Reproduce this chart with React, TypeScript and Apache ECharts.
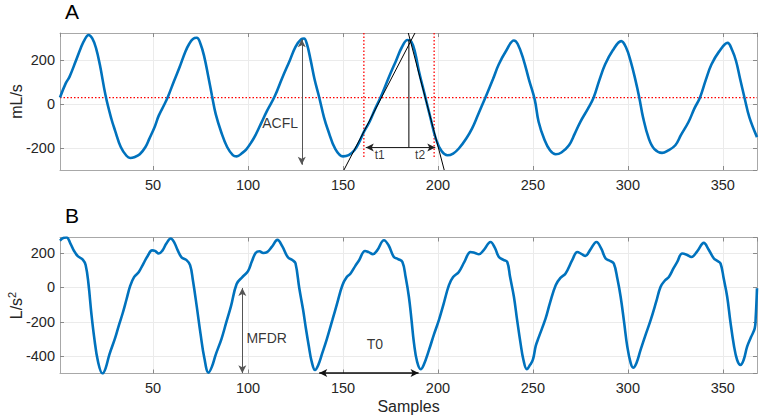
import React, { useEffect, useRef } from "react";
import * as echarts from "echarts";

// ---- Panel A: flow signal (mL/s) ----
const topSamples = [
  1, 4, 6, 9, 12, 14, 16, 18, 20, 22, 25, 28, 30, 33, 36, 38, 40, 43, 46, 48, 51, 53, 56, 58, 61, 64, 67, 69, 71, 73,
  75, 77, 79, 81, 83, 86, 89, 92, 94, 97, 99, 102, 104, 107, 110, 114, 118, 122, 125, 128, 129.5, 131, 133, 135, 137.5,
  140, 142, 146, 150, 153, 156, 159, 161, 164, 167, 170, 174, 178, 181, 184, 186, 188, 190, 193, 196, 199, 202, 205,
  208, 211, 215, 218, 221, 225, 229, 232, 236, 240, 242, 245, 248, 251, 253, 256, 259, 262, 265, 269, 272, 275, 279,
  282, 285, 288, 292, 296.5, 299, 301.5, 304, 306, 308, 311, 314, 318, 321, 325, 328, 332, 335, 338, 341, 344, 348,
  352.5, 355, 357, 359, 361.4, 364, 368,
];
const topFlow = [
  31, 95, 125, 190, 258, 295, 316, 300, 255, 180, 40, -65, -120, -195, -235, -245, -242, -228, -195, -158, -100, -52, 0,
  38, 105, 170, 240, 275, 298, 303, 275, 215, 130, 40, -45, -130, -195, -232, -238, -222, -207, -170, -140, -85, -30, 35,
  120, 200, 262, 297, 300, 275, 200, 115, 31, -60, -115, -205, -238, -232, -210, -165, -126, -80, -20, 35, 120, 200, 260,
  293, 285, 235, 150, 45, -60, -160, -215, -233, -225, -202, -155, -110, -50, 31, 115, 181, 245, 291, 275, 205, 110, 20,
  -80, -160, -210, -228, -220, -187, -135, -80, -20, 31, 110, 181, 245, 288, 260, 196, 110, 31, -60, -156, -205, -222,
  -212, -187, -140, -80, -20, 31, 110, 181, 240, 280, 245, 196, 120, 31, -60, -150,
];

// ---- Panel B: acceleration signal (L/s^2) ----
const bottomSamples = [
  1, 3, 4.5, 6.5, 8.5, 10.5, 13, 14.5, 16, 17.5, 19, 21, 23.4, 25, 27, 30, 32, 34, 36, 38, 40, 42.5, 45, 47, 49.5, 51,
  53, 55, 57, 59.3, 61, 63, 65, 67.5, 69.5, 71, 73, 75, 77, 79.2, 81, 83, 86, 88.5, 91, 94, 97, 100, 102, 104, 106, 108,
  110, 112.5, 115.5, 118, 121, 123.5, 125, 127, 129, 130.5, 132, 133.5, 135.3, 137, 139, 141.5, 144.4, 147, 149.7, 152,
  154, 156.5, 158.5, 161.6, 163.5, 165.8, 168, 171.6, 174, 176.8, 179, 181.3, 183, 184.7, 186, 187.4, 189, 190.9, 192.5,
  195.3, 198, 200.5, 203, 205.8, 208, 211, 214, 217.2, 219.5, 221.6, 224, 227.7, 230, 232.1, 234.5, 236.5, 238, 240,
  241.7, 243.5, 245, 246.8, 248.5, 250, 251.5, 253.2, 256.7, 259, 262, 264.5, 267.2, 270.7, 273.4, 275.5, 277.7, 280,
  283.5, 286, 288.3, 290.5, 292.6, 294.5, 296.2, 298, 299.7, 301.5, 302.8, 304.5, 306.7, 309.5, 312, 315, 317.2, 319.5,
  321.6, 324, 326, 328.6, 331, 333.5, 336.5, 340, 342.5, 345.3, 347, 348.8, 350.5, 352.3, 354, 355.8, 357.5, 359.3, 361,
  362.8, 364.8, 366.8, 367.3, 368,
];
const bottomAccel = [
  272, 288, 290, 255, 210, 180, 162, 130, 20, -150, -290, -430, -500, -470, -390, -295, -220, -150, -70, 10, 60, 90, 140,
  180, 215, 212, 197, 215, 255, 284, 265, 215, 175, 160, 130, 40, -110, -270, -410, -495, -460, -390, -300, -205, -110,
  20, 60, 95, 150, 200, 210, 200, 205, 235, 276, 240, 175, 158, 140, -5, -130, -240, -340, -430, -480, -450, -385, -300,
  -190, -90, 13, 60, 81, 125, 158, 212, 205, 193, 215, 274, 245, 177, 165, 148, 60, -54, -180, -325, -430, -475, -450,
  -363, -270, -190, -95, 13, 60, 90, 150, 206, 200, 193, 215, 264, 230, 177, 160, 148, 60, -54, -190, -325, -420, -475,
  -450, -420, -340, -286, -180, -90, 13, 55, 81, 158, 206, 195, 183, 215, 264, 225, 168, 155, 139, 50, -54, -200, -344,
  -440, -466, -440, -363, -270, -190, -80, 3, 40, 61, 110, 148, 197, 190, 177, 210, 259, 220, 168, 155, 139, 50, -54,
  -200, -334, -420, -450, -420, -344, -290, -238, -180, -5,
];

const xTickStep = 50;
const yTickStep = 200;
const flowThreshold = 30;

const FONT = "'Liberation Sans', Arial, Helvetica, sans-serif";
const AXIS_GREY = "#a8a8a8";
const TEXT_DARK = "#262626";
const BLUE = "#0072BD";

const zip = (xs: number[], ys: number[]) => xs.map((x, i) => [x, ys[i]]);

export default function App() {
  const ref = useRef<HTMLDivElement>(null);

  useEffect(() => {
    if (!ref.current) return;
    const chart = echarts.init(ref.current, null, { renderer: "svg" });

    const xBase = (gridIndex: number, position: "bottom" | "top", showLabels: boolean, name?: string) => ({
      type: "value",
      gridIndex,
      position,
      min: 1,
      max: 368,
      splitNumber: 7,
      minInterval: xTickStep,
      maxInterval: xTickStep,
      name: name || "",
      nameLocation: "middle",
      nameGap: 25,
      nameMoveOverlap: false,
      nameTextStyle: { fontSize: 16, color: TEXT_DARK, fontFamily: FONT },
      axisLine: { show: true, onZero: false, lineStyle: { color: AXIS_GREY, width: 1 } },
      axisTick: { show: true, inside: true, length: 4, lineStyle: { color: "#8a8a8a" } },
      axisLabel: {
        show: showLabels,
        color: TEXT_DARK,
        fontSize: 14.5,
        fontFamily: FONT,
        margin: 7,
        showMinLabel: false,
        showMaxLabel: false,
        formatter: (v: number) => (v % xTickStep === 0 ? String(v) : ""),
      },
      splitLine: { show: position === "bottom", showMinLine: false, showMaxLine: false, lineStyle: { color: "#ebebeb", width: 1 } },
    });

    const yBase = (
      gridIndex: number,
      position: "left" | "right",
      min: number,
      max: number,
      showLabels: boolean,
      name?: string
    ) => ({
      type: "value",
      gridIndex,
      position,
      min,
      max,
      minInterval: yTickStep,
      maxInterval: yTickStep,
      name: name || "",
      nameLocation: "middle",
      nameGap: 34,
      nameMoveOverlap: false,
      nameTextStyle: {
        fontSize: 16,
        color: TEXT_DARK,
        fontFamily: FONT,
        lineHeight: 20,
        rich: { sup: { fontSize: 11, lineHeight: 11, verticalAlign: "top", color: TEXT_DARK, fontFamily: FONT } },
      },
      axisLine: { show: true, onZero: false, lineStyle: { color: AXIS_GREY, width: 1 } },
      axisTick: { show: true, inside: true, length: 4, lineStyle: { color: "#8a8a8a" } },
      axisLabel: {
        show: showLabels,
        color: TEXT_DARK,
        fontSize: 14.5,
        fontFamily: FONT,
        margin: 5,
        showMinLabel: false,
        showMaxLabel: false,
        formatter: (v: number) => (v % yTickStep === 0 ? String(v) : ""),
      },
      splitLine: { show: position === "left", showMinLine: false, showMaxLine: false, lineStyle: { color: "#ebebeb", width: 1 } },
    });

    const arrowLine = (
      from: number[],
      to: number[],
      heads: [string, string],
      color: string,
      width: number
    ) => [
      { coord: from, symbol: heads[0], lineStyle: { color, width, type: "solid" } },
      { coord: to, symbol: heads[1] },
    ];

    const plainLine = (data: number[][], xi: number, color: string, width: number, type: any = "solid", z = 4) => ({
      type: "line",
      xAxisIndex: xi,
      yAxisIndex: xi,
      data,
      showSymbol: false,
      symbol: "none",
      silent: true,
      z,
      lineStyle: { color, width, type },
    });

    const textSeries = (xi: number, items: { pos: number[]; text: string; size: number }[]) => ({
      type: "scatter",
      xAxisIndex: xi,
      yAxisIndex: xi,
      symbolSize: 0,
      silent: true,
      z: 6,
      data: items.map((it) => ({
        value: it.pos,
        name: it.text,
        label: {
          show: true,
          formatter: "{b}",
          position: "inside",
          color: "#000",
          fontSize: it.size,
          fontFamily: FONT,
        },
      })),
    });

    const option: any = {
      animation: false,
      backgroundColor: "#ffffff",
      textStyle: { fontFamily: FONT },
      title: [
        { text: "A", left: 65, top: 1, padding: 0, textStyle: { fontSize: 21, fontWeight: "normal", color: "#000", fontFamily: FONT } },
        { text: "B", left: 65, top: 205, padding: 0, textStyle: { fontSize: 21, fontWeight: "normal", color: "#000", fontFamily: FONT } },
      ],
      grid: [
        { left: 60, top: 33, right: 4, height: 137, containLabel: false, outerBoundsMode: "none" },
        { left: 60, top: 237.5, right: 4, height: 136, containLabel: false, outerBoundsMode: "none" },
      ],
      xAxis: [
        xBase(0, "bottom", true),
        xBase(0, "top", false),
        xBase(1, "bottom", true, "Samples"),
        xBase(1, "top", false),
      ],
      yAxis: [
        yBase(0, "left", -300, 325, true, "mL/s"),
        yBase(0, "right", -300, 325, false),
        yBase(1, "left", -500, 290, true, "L/s{sup|2}"),
        yBase(1, "right", -500, 290, false),
      ],
      series: [
        // Panel A reference lines
        plainLine([[1, flowThreshold], [368, flowThreshold]], 0, "#ff0000", 1.3, [1.5, 2], 2),
        plainLine([[161, 325], [161, -245]], 0, "#ff0000", 1.3, [1.5, 2], 2),
        plainLine([[198, 325], [198, -245]], 0, "#ff0000", 1.3, [1.5, 2], 2),
        {
          type: "line",
          xAxisIndex: 0,
          yAxisIndex: 0,
          data: zip(topSamples, topFlow),
          smooth: 0.4,
          showSymbol: false,
          symbol: "none",
          silent: true,
          z: 3,
          lineStyle: { color: BLUE, width: 2.6 },
        },
        // tangent lines & peak marker
        plainLine([[150.5, -300], [187.9, 325]], 0, "#000", 1),
        plainLine([[184.4, 325], [203.3, -300]], 0, "#000", 1),
        plainLine([[184.7, 293], [184.7, -197]], 0, "#000", 1),
        {
          type: "line",
          xAxisIndex: 0,
          yAxisIndex: 0,
          data: [],
          silent: true,
          z: 5,
          markLine: {
            silent: true,
            animation: false,
            symbolSize: [6, 8],
            label: { show: false },
            data: [
              arrowLine([128.3, 296], [128.3, -276], ["arrow", "arrow"], "#555", 1),
              arrowLine([162, -197], [198.6, -197], ["arrow", "arrow"], "#222", 1),
            ],
          },
        },
        textSeries(0, [
          { pos: [116.9, -84], text: "ACFL", size: 14 },
          { pos: [169.3, -230], text: "t1", size: 12 },
          { pos: [190.6, -230], text: "t2", size: 12 },
        ]),
        // Panel B
        {
          type: "line",
          xAxisIndex: 2,
          yAxisIndex: 2,
          data: zip(bottomSamples, bottomAccel),
          smooth: 0.4,
          showSymbol: false,
          symbol: "none",
          silent: true,
          z: 3,
          lineStyle: { color: BLUE, width: 2.6 },
        },
        {
          type: "line",
          xAxisIndex: 2,
          yAxisIndex: 2,
          data: [],
          silent: true,
          z: 5,
          markLine: {
            silent: true,
            animation: false,
            symbolSize: [6, 8],
            label: { show: false },
            data: [
              arrowLine([97, -3], [97, -498], ["arrow", "arrow"], "#555", 1),
              arrowLine([137.5, -497], [189.8, -497], ["arrow", "arrow"], "#111", 1.6),
            ],
          },
        },
        textSeries(2, [
          { pos: [109.8, -296], text: "MFDR", size: 14 },
          { pos: [166.8, -329], text: "T0", size: 14 },
        ]),
      ],
    };

    chart.setOption(option);
    return () => chart.dispose();
  }, []);

  return (
    <div
      ref={ref}
      style={{ position: "fixed", left: 0, top: 0, width: 761, height: 420, background: "#ffffff" }}
    />
  );
}
